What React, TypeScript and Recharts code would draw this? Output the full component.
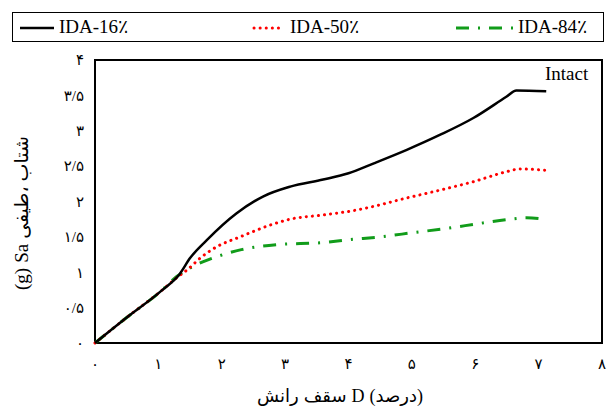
import React from "react";
import { LineChart, Line, XAxis, YAxis, ReferenceArea } from "recharts";

// drift D (%) vs spectral acceleration Sa (g)
const ida16 = [
    { d: 0, sa: 0 }, { d: 0.5, sa: 0.36 }, { d: 1.05, sa: 0.74 }, { d: 1.34, sa: 0.98 },
    { d: 1.5, sa: 1.2 }, { d: 1.76, sa: 1.45 }, { d: 2.23, sa: 1.83 }, { d: 2.65, sa: 2.07 },
    { d: 3.08, sa: 2.21 }, { d: 3.6, sa: 2.31 }, { d: 4.0, sa: 2.4 }, { d: 4.4, sa: 2.54 },
    { d: 4.92, sa: 2.73 }, { d: 5.44, sa: 2.94 }, { d: 5.97, sa: 3.18 }, { d: 6.49, sa: 3.48 },
    { d: 6.65, sa: 3.57 }, { d: 7.12, sa: 3.56 },
];
const ida50 = [
    { d: 0, sa: 0 }, { d: 0.5, sa: 0.36 }, { d: 1.05, sa: 0.74 }, { d: 1.3, sa: 0.93 },
    { d: 1.45, sa: 1.03 }, { d: 1.66, sa: 1.2 }, { d: 1.92, sa: 1.36 }, { d: 2.29, sa: 1.5 },
    { d: 2.81, sa: 1.68 }, { d: 3.08, sa: 1.75 }, { d: 3.6, sa: 1.81 }, { d: 4.13, sa: 1.88 },
    { d: 4.39, sa: 1.93 }, { d: 4.92, sa: 2.05 }, { d: 5.44, sa: 2.16 }, { d: 5.97, sa: 2.28 },
    { d: 6.49, sa: 2.42 }, { d: 6.7, sa: 2.46 }, { d: 7.12, sa: 2.44 },
];
const ida84 = [
    { d: 0, sa: 0 }, { d: 0.5, sa: 0.36 }, { d: 1.05, sa: 0.74 }, { d: 1.29, sa: 0.94 },
    { d: 1.5, sa: 1.06 }, { d: 1.71, sa: 1.15 }, { d: 1.92, sa: 1.22 }, { d: 2.31, sa: 1.32 },
    { d: 2.87, sa: 1.39 }, { d: 3.6, sa: 1.42 }, { d: 4.0, sa: 1.46 }, { d: 4.5, sa: 1.5 },
    { d: 5.02, sa: 1.56 }, { d: 5.55, sa: 1.62 }, { d: 6.07, sa: 1.69 }, { d: 6.55, sa: 1.75 },
    { d: 6.81, sa: 1.77 }, { d: 7.07, sa: 1.75 },
];

const xTicks = [0, 1, 2, 3, 4, 5, 6, 7, 8];
const yTicks = [0, 0.5, 1, 1.5, 2, 2.5, 3, 3.5, 4];
const legendNames = ["IDA-16٪", "IDA-50٪", "IDA-84٪"];
const xTitle = ["رانش", "سقف", "D", "(درصد)"];
const yTitle = ["شتاب", "طیفی،", "Sa", "(g)"];

const FONT = "'Liberation Serif', 'DejaVu Sans', serif";
const GREEN = "#119c1a";

const fa = (v: number) =>
    String(v).replace(/[0-9]/g, (c) => "۰۱۲۳۴۵۶۷۸۹"[+c]).replace(".", "/");

export default function App() {
    return (
        <div style={{ position: "absolute", left: 0, top: 0, width: 610, height: 407, background: "#fff", fontFamily: FONT }}>
            <LineChart width={610} height={407} margin={{ top: 60, right: 8, bottom: 34, left: 50 }}>
                <XAxis
                    type="number" dataKey="d" domain={[0, 8]} ticks={xTicks} allowDuplicatedCategory={false}
                    tickFormatter={fa} axisLine={false} tickLine={false} height={30} tickMargin={9}
                    tick={{ fontSize: 15, fill: "#000", fontFamily: FONT }}
                />
                <YAxis
                    type="number" domain={[0, 4]} ticks={yTicks} tickFormatter={fa}
                    axisLine={false} tickLine={false} width={45} tickMargin={5}
                    tick={{ fontSize: 15, fill: "#000", fontFamily: FONT }}
                />
                <ReferenceArea x1={0} x2={8} y1={0} y2={4} fill="none" stroke="#000" strokeWidth={2} ifOverflow="visible" />
                <Line data={ida84} dataKey="sa" type="monotone" stroke={GREEN} strokeWidth={3}
                    strokeDasharray="13 9 2 9" dot={false} isAnimationActive={false} />
                <Line data={ida50} dataKey="sa" type="monotone" stroke="#ff0000" strokeWidth={3}
                    strokeDasharray="0.1 6" strokeLinecap="round" dot={false} isAnimationActive={false} />
                <Line data={ida16} dataKey="sa" type="monotone" stroke="#000" strokeWidth={2.5}
                    dot={false} isAnimationActive={false} />
            </LineChart>

            {/* legend */}
            <div style={{ position: "absolute", left: 12, top: 12, width: 592, height: 30, border: "1.5px solid #000", boxSizing: "border-box", fontSize: 19 }}>
                <svg width={592} height={28} style={{ position: "absolute", left: 0, top: 0 }}>
                    <line x1={7} x2={41} y1={15} y2={15} stroke="#000" strokeWidth={2.5} />
                    <line x1={241} x2={271} y1={15} y2={15} stroke="#ff0000" strokeWidth={3} strokeDasharray="0.1 6" strokeLinecap="round" />
                    <line x1={443} x2={500} y1={15} y2={15} stroke={GREEN} strokeWidth={3} strokeDasharray="13 9 2 9" />
                </svg>
                <span style={{ position: "absolute", left: 46, top: 2, lineHeight: "24px" }}>{legendNames[0]}</span>
                <span style={{ position: "absolute", left: 277, top: 2, lineHeight: "24px" }}>{legendNames[1]}</span>
                <span style={{ position: "absolute", left: 505, top: 2, lineHeight: "24px" }}>{legendNames[2]}</span>
            </div>

            <div style={{ position: "absolute", left: 545, top: 64, fontSize: 19, lineHeight: "20px" }}>Intact</div>

            {/* axis titles */}
            <div style={{
                position: "absolute", left: 190, top: 385, width: 300, display: "flex", justifyContent: "center",
                gap: 5, fontSize: 18, lineHeight: "22px",
            }}>
                {xTitle.map((w) => <span key={w}>{w}</span>)}
            </div>
            <div style={{
                position: "absolute", left: 22 - 110, top: 213 - 12, width: 220, height: 24, lineHeight: "24px",
                display: "flex", flexDirection: "row-reverse", justifyContent: "center", gap: 5,
                fontSize: 19, transform: "rotate(-90deg)",
            }}>
                {yTitle.map((w) => <span key={w}>{w}</span>)}
            </div>
        </div>
    );
}
